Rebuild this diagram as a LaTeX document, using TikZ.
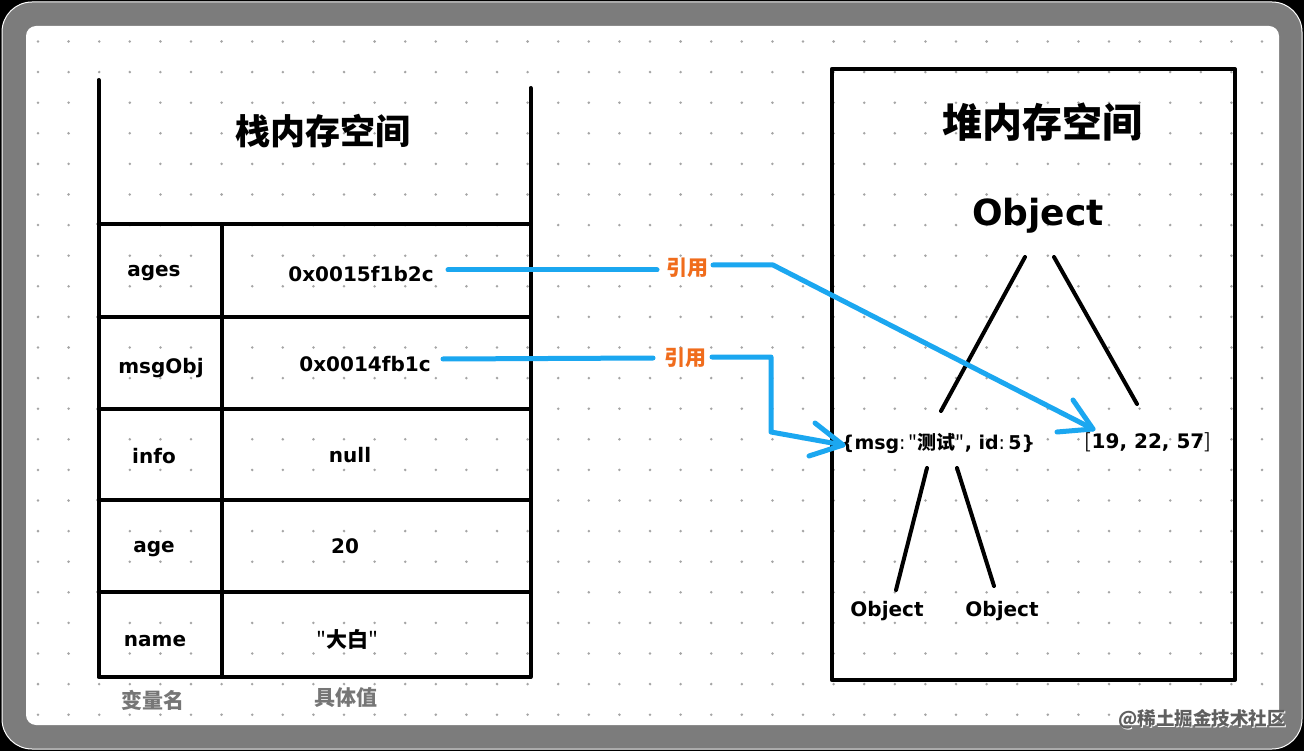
\documentclass[tikz,border=0pt]{standalone}
\usepackage{fontspec}
\setmainfont{DejaVu Sans}
\newfontfamily\cjk{Noto Sans CJK SC}
\definecolor{refblue}{RGB}{27,167,240}
\definecolor{reforange}{RGB}{240,108,28}
\definecolor{dotgray}{RGB}{165,165,165}
\definecolor{framegray}{RGB}{124,124,124}
\definecolor{capgray}{RGB}{118,118,118}
\definecolor{wmgray}{RGB}{95,95,95}
\begin{document}
\begin{tikzpicture}[x=1pt,y=-1pt,
  blk/.style={line width=4pt, line cap=round, line join=round},
  refline/.style={refblue, line width=5pt, line cap=round, line join=round},
  lbl/.style={inner sep=0pt, anchor=base, font=\fontsize{20}{24}\selectfont\bfseries},
  cjklbl/.style={inner sep=0pt, anchor=base, font=\cjk\bfseries\fontsize{21}{24}\selectfont},
  titlebox/.style={inner sep=0pt, font=\cjk\bfseries\fontsize{35}{40}\selectfont},
  reflbl/.style={inner sep=0pt, text=reforange, font=\cjk\bfseries\fontsize{21}{24}\selectfont},
  caplbl/.style={inner sep=0pt, text=capgray, font=\cjk\bfseries\fontsize{21}{24}\selectfont},
  wm/.style={inner sep=0pt, font=\cjk\bfseries\fontsize{18.5}{22}\selectfont}]
\useasboundingbox (0,0) rectangle (1304,751);
% frame
\fill[black] (0,0) rectangle (1304,751);
\filldraw[fill=framegray, draw=white, line width=1pt, rounded corners=30pt] (2,2) rectangle (1302,749);
\fill[white, rounded corners=10pt] (26,26) rectangle (1279,725);
% dot grid
\foreach \i in {0,...,40}{
  \foreach \j in {0,...,22}{
    \fill[dotgray] ({38+30.6*\i},{41.5+30.6*\j}) circle (1.4pt);
  }
}
% stack
\draw[blk] (98.5,80) -- (98.5,677) -- (530.5,677) -- (530.5,88);
\foreach \yy in {224,317,409,500,592}{
  \draw[blk] (98.5,\yy) -- (530.5,\yy);
}
\draw[blk] (221.7,224) -- (221.7,677);
\node[titlebox] (stackT) at (323,131) {栈内存空间};
\node[lbl] (nAges) at (154,277) {ages};
\node[lbl] (nMsg) at (161,373) {msgObj};
\node[lbl] (nInfo) at (154,463) {info};
\node[lbl] (nAge) at (154,552) {age};
\node[lbl] (nName) at (155,646) {name};
\node[lbl] (vAges) at (361,282) {0x0015f1b2c};
\node[lbl] (vMsg) at (365,371) {0x0014fb1c};
\node[lbl] (vInfo) at (350,462) {null};
\node[lbl] (vAge) at (345,553) {20};
\node[cjklbl] (vName) at (347,647) {{\mdseries"}大白{\mdseries"}};
\node[caplbl] (capVar) at (153,700) {变量名};
\node[caplbl] (capVal) at (346,698) {具体值};
% heap
\draw[blk] (831.7,69) rectangle (1235,680);
\node[titlebox, font=\cjk\bfseries\fontsize{40}{44}\selectfont] (heapT) at (1042,122) {堆内存空间};
\node[inner sep=0pt, anchor=base, font=\fontsize{36}{40}\selectfont\bfseries] (obj) at (1038,226) {Object};
\node[lbl, font=\fontsize{19}{22}\selectfont\bfseries] (msgo) at (938,449) {\{msg{\mdseries:}\,{\cjk\mdseries"}{\cjk 测试}{\cjk\mdseries"}, id{\mdseries:}\,5\}};
\node[lbl] (arr) at (1148,448) {{\cjk\mdseries[}19, 22, 57{\cjk\mdseries]}};
\node[lbl] (objL) at (887,616) {Object};
\node[lbl] (objR) at (1002,616) {Object};
\coordinate (o1a) at (1025,257);
\coordinate (o1b) at (941,411);
\coordinate (o2a) at (1054,257);
\coordinate (o2b) at (1137,404);
\coordinate (m1a) at (927,468);
\coordinate (m1b) at (896,590);
\coordinate (m2a) at (957,468);
\coordinate (m2b) at (994,586);
\draw[blk] (o1a) -- (o1b);
\draw[blk] (o2a) -- (o2b);
\draw[blk] (m1a) -- (m1b);
\draw[blk] (m2a) -- (m2b);
% references
\node[reflbl] (ref1) at (687,268) {引用};
\node[reflbl] (ref2) at (685,358) {引用};
\coordinate (a1s) at (448,270);
\coordinate (a1m) at (657,270);
\coordinate (a1r) at (713,265);
\coordinate (a1k) at (773,265);
\coordinate (a1t) at (1093,429);
\coordinate (a1u) at (1073,400);
\coordinate (a1l) at (1057,432);
\coordinate (a2s) at (443,359);
\coordinate (a2m) at (653,358);
\coordinate (a2r) at (712,357);
\coordinate (a2k) at (771,357);
\coordinate (a2d) at (771,432);
\coordinate (a2t) at (843,445);
\coordinate (a2u) at (815,423);
\coordinate (a2l) at (809,456);
\draw[refline] (a1s) -- (a1m);
\draw[refline] (a1r) -- (a1k) -- (a1t);
\draw[refline] (a1u) -- (a1t) -- (a1l);
\draw[refline] (a2s) -- (a2m);
\draw[refline] (a2r) -- (a2k) -- (a2d) -- (a2t);
\draw[refline] (a2u) -- (a2t) -- (a2l);
% watermark
\node[wm, text=white] (wmS) at (1203,720) {@稀土掘金技术社区};
\node[wm, text=wmgray] (wmT) at (1202,719) {@稀土掘金技术社区};
\end{tikzpicture}
\end{document}
